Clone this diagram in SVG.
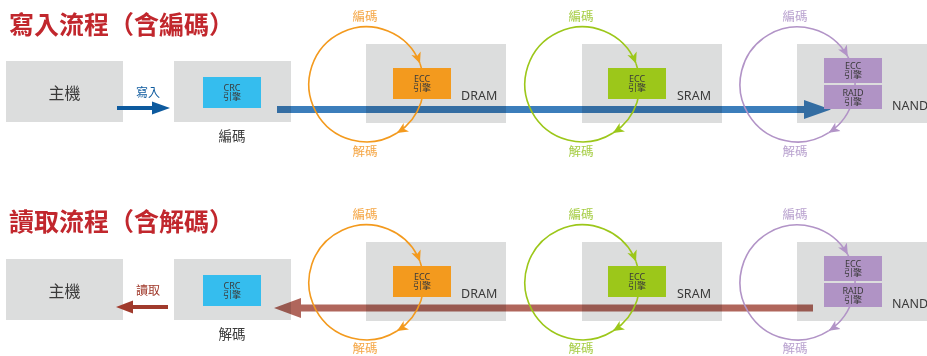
<svg xmlns="http://www.w3.org/2000/svg" width="927" height="356" viewBox="0 0 927 356">
<style>
.bg{fill:#dcdddd}
.title{font-family:"Noto Sans CJK TC","Noto Sans",sans-serif;font-weight:700;font-size:25px;fill:#c1272d}
.t{font-family:"Noto Sans","Noto Sans CJK TC",sans-serif;fill:#3a3a3a}
.host{font-size:16px;text-anchor:middle}
.cap{font-size:13.5px;text-anchor:middle}
.mem{font-size:12.5px}
.eng{font-size:9px;text-anchor:middle}
.lbl{font-family:"Noto Sans CJK TC","Noto Sans",sans-serif;font-size:12.5px;text-anchor:middle}
.ring{fill:none;stroke-width:1.6}
.big{mix-blend-mode:multiply}
</style>
<defs>
<marker id="mo" markerUnits="userSpaceOnUse" markerWidth="12" markerHeight="12" refX="11" refY="5" orient="auto" viewBox="0 0 12 10"><path d="M0,0 L11,5 L0,10 L3,5 z" fill="#f39a1e"/></marker>
<marker id="mg" markerUnits="userSpaceOnUse" markerWidth="12" markerHeight="12" refX="11" refY="5" orient="auto" viewBox="0 0 12 10"><path d="M0,0 L11,5 L0,10 L3,5 z" fill="#9cc71a"/></marker>
<marker id="mp" markerUnits="userSpaceOnUse" markerWidth="12" markerHeight="12" refX="11" refY="5" orient="auto" viewBox="0 0 12 10"><path d="M0,0 L11,5 L0,10 L3,5 z" fill="#b294c7"/></marker>
</defs>

<text class="title" x="9" y="34">寫入流程（含編碼）</text>
<text class="title" x="9" y="231">讀取流程（含解碼）</text>

<!-- WRITE ROW -->
<g id="w-host"><rect class="bg" x="6" y="61" width="117" height="61"/><text class="t host" x="64.5" y="99">主機</text></g>
<g id="w-crc"><rect class="bg" x="174" y="61" width="117" height="61"/><text class="t cap" x="232" y="141">編碼</text></g>
<g id="w-dram"><rect class="bg" x="366" y="44" width="140" height="79"/><text class="t mem" x="461" y="100">DRAM</text></g>
<g id="w-sram"><rect class="bg" x="582" y="44" width="140" height="79"/><text class="t mem" x="677" y="100">SRAM</text></g>
<g id="w-nand"><rect class="bg" x="797" y="44" width="135" height="79"/><text class="t mem" x="892" y="110">NAND</text></g>

<!-- READ ROW -->
<g id="r-host"><rect class="bg" x="6" y="259" width="117" height="61"/><text class="t host" x="64.5" y="297">主機</text></g>
<g id="r-crc"><rect class="bg" x="174" y="259" width="117" height="61"/><text class="t cap" x="232" y="339">解碼</text></g>
<g id="r-dram"><rect class="bg" x="366" y="242" width="140" height="79"/><text class="t mem" x="461" y="298">DRAM</text></g>
<g id="r-sram"><rect class="bg" x="582" y="242" width="140" height="79"/><text class="t mem" x="677" y="298">SRAM</text></g>
<g id="r-nand"><rect class="bg" x="797" y="242" width="135" height="79"/><text class="t mem" x="892" y="308">NAND</text></g>

<g id="connectors">
  <!-- write -->
  <line x1="117" y1="108" x2="155" y2="108" stroke="#0d5a9e" stroke-width="4"/>
  <polygon points="152,101.5 170,108 152,114.5" fill="#0d5a9e"/>
  <text class="lbl" x="148" y="96.5" fill="#0d5a9e" style="font-size:12px">寫入</text>
  <path class="big" d="M277,106 H804 V100 L831,109.5 L804,119 V113 H277 Z" fill="#3c7ebb"/>
  <g id="w-ring-dram">
    <path class="ring" stroke="#f39a1e" d="M397,133 A57.5,57.5 0 1 1 420,63.5" marker-end="url(#mo)"/>
    <path class="ring" stroke="#f39a1e" d="M420,63.5 A57.5,57.5 0 0 1 397,133" marker-end="url(#mo)"/>
    <text class="lbl" x="365" y="21" fill="#f5a645">編碼</text>
    <text class="lbl" x="365" y="156" fill="#f5a645">解碼</text>
  </g>
  <g id="w-ring-sram">
    <path class="ring" stroke="#9cc71a" d="M613,133 A57.5,57.5 0 1 1 636,63.5" marker-end="url(#mg)"/>
    <path class="ring" stroke="#9cc71a" d="M636,63.5 A57.5,57.5 0 0 1 613,133" marker-end="url(#mg)"/>
    <text class="lbl" x="581" y="21" fill="#a6cd45">編碼</text>
    <text class="lbl" x="581" y="156" fill="#a6cd45">解碼</text>
  </g>
  <g id="w-ring-nand">
    <path class="ring" stroke="#b294c7" d="M828.8,132.7 A57.5,57.5 0 1 1 847.8,56.6" marker-end="url(#mp)"/>
    <path class="ring" stroke="#b294c7" d="M847.8,56.6 A57.5,57.5 0 0 1 828.8,132.7" marker-end="url(#mp)"/>
    <text class="lbl" x="795" y="21" fill="#b9a2cf">編碼</text>
    <text class="lbl" x="795" y="156" fill="#b9a2cf">解碼</text>
  </g>

  <!-- read -->
  <line x1="130" y1="307" x2="168" y2="307" stroke="#a03a2c" stroke-width="4"/>
  <polygon points="133,300.5 116,307 133,313.5" fill="#a03a2c"/>
  <text class="lbl" x="148" y="294.5" fill="#a03a2c" style="font-size:12px">讀取</text>
  <path class="big" d="M813,304.5 H301 V298 L274,308 L301,318 V311.5 H813 Z" fill="#b0665c"/>
  <g id="r-ring-dram">
    <path class="ring" stroke="#f39a1e" d="M397,331 A57.5,57.5 0 1 1 420,261.5" marker-end="url(#mo)"/>
    <path class="ring" stroke="#f39a1e" d="M420,261.5 A57.5,57.5 0 0 1 397,331" marker-end="url(#mo)"/>
    <text class="lbl" x="365" y="219" fill="#f5a645">編碼</text>
    <text class="lbl" x="365" y="352.5" fill="#f5a645">解碼</text>
  </g>
  <g id="r-ring-sram">
    <path class="ring" stroke="#9cc71a" d="M613,331 A57.5,57.5 0 1 1 636,261.5" marker-end="url(#mg)"/>
    <path class="ring" stroke="#9cc71a" d="M636,261.5 A57.5,57.5 0 0 1 613,331" marker-end="url(#mg)"/>
    <text class="lbl" x="581" y="219" fill="#a6cd45">編碼</text>
    <text class="lbl" x="581" y="352.5" fill="#a6cd45">解碼</text>
  </g>
  <g id="r-ring-nand">
    <path class="ring" stroke="#b294c7" d="M828.8,330.7 A57.5,57.5 0 1 1 847.8,254.6" marker-end="url(#mp)"/>
    <path class="ring" stroke="#b294c7" d="M847.8,254.6 A57.5,57.5 0 0 1 828.8,330.7" marker-end="url(#mp)"/>
    <text class="lbl" x="795" y="219" fill="#b9a2cf">編碼</text>
    <text class="lbl" x="795" y="352.5" fill="#b9a2cf">解碼</text>
  </g>
</g>

<!-- engines -->
<g id="w-crc-eng"><rect x="203" y="77" width="58" height="31" fill="#35bdee"/><text class="t eng"><tspan x="232" y="90.5">CRC</tspan><tspan x="232" y="100">引擎</tspan></text></g>
<g id="w-dram-ecc"><rect x="393" y="68" width="58" height="31" fill="#f39a1e"/><text class="t eng"><tspan x="422" y="81.5">ECC</tspan><tspan x="422" y="91">引擎</tspan></text></g>
<g id="w-sram-ecc"><rect x="608" y="68" width="58" height="31" fill="#9cc71a"/><text class="t eng"><tspan x="637" y="81.5">ECC</tspan><tspan x="637" y="91">引擎</tspan></text></g>
<g id="w-nand-ecc"><rect x="824" y="58" width="58" height="25" fill="#b093c5"/><text class="t eng"><tspan x="853" y="68.5">ECC</tspan><tspan x="853" y="78">引擎</tspan></text></g>
<g id="w-nand-raid"><rect x="824" y="85" width="58" height="24" fill="#b093c5"/><text class="t eng"><tspan x="853" y="95.5">RAID</tspan><tspan x="853" y="105">引擎</tspan></text></g>

<g id="r-crc-eng"><rect x="203" y="275" width="58" height="31" fill="#35bdee"/><text class="t eng"><tspan x="232" y="288.5">CRC</tspan><tspan x="232" y="298">引擎</tspan></text></g>
<g id="r-dram-ecc"><rect x="393" y="266" width="58" height="31" fill="#f39a1e"/><text class="t eng"><tspan x="422" y="279.5">ECC</tspan><tspan x="422" y="289">引擎</tspan></text></g>
<g id="r-sram-ecc"><rect x="608" y="266" width="58" height="31" fill="#9cc71a"/><text class="t eng"><tspan x="637" y="279.5">ECC</tspan><tspan x="637" y="289">引擎</tspan></text></g>
<g id="r-nand-ecc"><rect x="824" y="256" width="58" height="25" fill="#b093c5"/><text class="t eng"><tspan x="853" y="266.5">ECC</tspan><tspan x="853" y="276">引擎</tspan></text></g>
<g id="r-nand-raid"><rect x="824" y="283" width="58" height="24" fill="#b093c5"/><text class="t eng"><tspan x="853" y="293.5">RAID</tspan><tspan x="853" y="303">引擎</tspan></text></g>
</svg>
